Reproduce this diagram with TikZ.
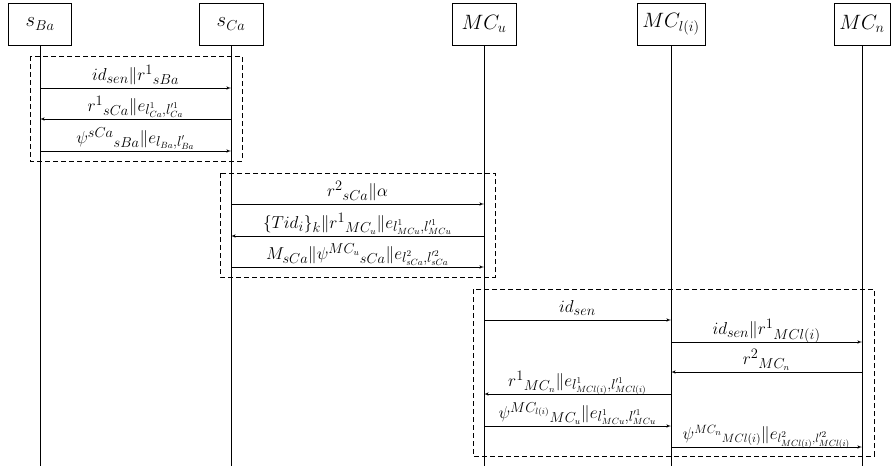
\documentclass[tikz,border=0pt]{standalone}
\usepackage{amsmath, amssymb}
\usetikzlibrary{arrows, positioning}

% key index with a flat subscript
\newcommand{\ekey}[2]{e_{\smash[t]{#1},\smash[t]{#2}}}

\begin{document}
\begin{tikzpicture}[x=1pt, y=-1pt, >=latex',
    head/.style={draw, thick, rectangle, minimum width=60pt, minimum height=42pt, inner sep=2pt, font=\fontsize{22}{26}\selectfont},
    life/.style={thick},
    msg/.style={->, semithick},
    lbl/.style={midway, anchor=base, yshift=7.5pt, inner sep=0pt, font=\fontsize{19}{21}\selectfont},
    group/.style={draw, thick, dashed, dash pattern=on 5pt off 3pt}]
    \useasboundingbox (0,0) rectangle (891,471);

    % participants
    \node[head, minimum width=63pt] (sBa) at (40,24) {$s_{Ba}$};
    \node[head, minimum width=64pt] (sCa) at (231,24) {$s_{Ca}$};
    \node[head, minimum width=64pt] (MCu) at (484,24) {$MC_u$};
    \node[head, minimum width=68pt] (MCl) at (671,24) {$MC_{l(i)}$};
    \node[head, minimum width=56pt] (MCn) at (862,24) {$MC_n$};

    % lifelines
    \foreach \p in {sBa, sCa, MCu, MCl, MCn} {
        \coordinate (\p end) at (\p.south |- 0,466);
        \draw[life] (\p.south) -- (\p end);
    }

    % message heights
    \coordinate (m1) at (0,88);
    \coordinate (m2) at (0,119);
    \coordinate (m3) at (0,151);
    \coordinate (m4) at (0,204);
    \coordinate (m5) at (0,236);
    \coordinate (m6) at (0,267);
    \coordinate (m7) at (0,320);
    \coordinate (m8) at (0,342);
    \coordinate (m9) at (0,372);
    \coordinate (m10) at (0,394);
    \coordinate (m11) at (0,426);
    \coordinate (m12) at (0,447);

    % phase 1
    \draw[msg] (sBa |- m1) -- (sCa |- m1) node[lbl] {$id_{sen}\|r^1{}_{sBa}$};
    \draw[msg] (sCa |- m2) -- (sBa |- m2) node[lbl] {$r^1{}_{sCa}\|\ekey{l^1_{Ca}}{l'^1_{Ca}}$};
    \draw[msg] (sBa |- m3) -- (sCa |- m3) node[lbl] {$\psi^{sCa}{}_{sBa}\|\ekey{l_{Ba}}{l'_{Ba}}$};
    \draw[group] (30,56) rectangle (242,161);

    % phase 2
    \draw[msg] (sCa |- m4) -- (MCu |- m4) node[lbl] {$r^2{}_{sCa}\|\alpha$};
    \draw[msg] (MCu |- m5) -- (sCa |- m5) node[lbl] {$\{Tid_i\}_k\|r^1{}_{MC_u}\|\ekey{l^1_{MCu}}{l'^1_{MCu}}$};
    \draw[msg] (sCa |- m6) -- (MCu |- m6) node[lbl] {$M_{sCa}\|\psi^{MC_u}{}_{sCa}\|\ekey{l^2_{sCa}}{l'^2_{sCa}}$};
    \draw[group] (220,173) rectangle (495,277);

    % phase 3
    \draw[msg] (MCu |- m7) -- (MCl |- m7) node[lbl] {$id_{sen}$};
    \draw[msg] (MCl |- m8) -- (MCn |- m8) node[lbl] {$id_{sen}\|r^1{}_{MCl(i)}$};
    \draw[msg] (MCn |- m9) -- (MCl |- m9) node[lbl] {$r^2{}_{MC_n}$};
    \draw[msg] (MCl |- m10) -- (MCu |- m10) node[lbl] {$r^1{}_{MC_n}\|\ekey{l^1_{MCl(i)}}{l'^1_{MCl(i)}}$};
    \draw[msg] (MCu |- m11) -- (MCl |- m11) node[lbl] {$\psi^{MC_{l(i)}}{}_{MC_u}\|\ekey{l^1_{MCu}}{l'^1_{MCu}}$};
    \draw[msg] (MCl |- m12) -- (MCn |- m12) node[lbl, font=\fontsize{17.5}{20}\selectfont] {$\psi^{MC_n}{}_{MCl(i)}\|\ekey{l^2_{MCl(i)}}{l'^2_{MCl(i)}}$};
    \draw[group] (473,289) rectangle (874,456);
\end{tikzpicture}
\end{document}
